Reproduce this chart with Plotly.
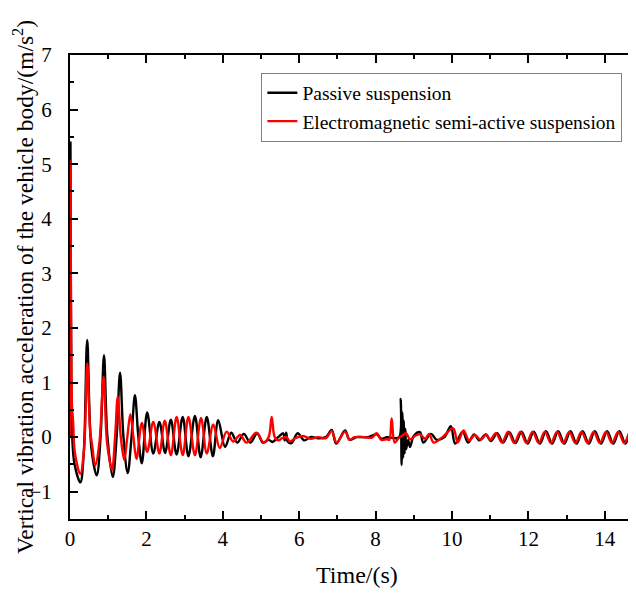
import plotly.graph_objects as go

# Passive suspension (black): key points
passive_t = [0.00, 0.012, 0.04, 0.07, 0.12, 0.27, 0.36, 0.45, 0.56, 0.70, 0.80, 0.89, 0.98, 1.12, 1.22,
             1.31, 1.40, 1.51, 1.61, 1.70, 1.79, 1.88, 2.02, 2.18, 2.34, 2.49, 2.64, 2.79, 2.95, 3.10,
             3.27, 3.42, 3.58, 3.74, 3.88, 4.06, 4.22, 4.38, 4.55, 4.72, 4.90, 5.05, 5.20, 5.30, 5.45,
             5.58, 5.62, 5.66, 5.70, 5.80, 5.96, 6.13, 6.30, 6.50, 6.70, 6.85, 6.97, 7.20, 7.32, 7.50,
             7.80, 8.03, 8.15, 8.30, 8.50, 8.62, 8.66, 8.68, 8.70, 8.72, 8.74, 8.76, 8.78, 8.80, 8.85,
             8.90, 9.00, 9.16, 9.25, 9.45, 9.60, 9.80, 9.97, 10.08, 10.28, 10.42, 10.58, 10.72, 10.88,
             11.02, 11.18, 11.34, 11.50, 11.66, 11.82, 11.98, 12.14, 12.30, 12.46, 12.62, 12.78, 12.94,
             13.10, 13.26, 13.42, 13.58, 13.74, 13.90, 14.06, 14.22, 14.38, 14.54, 14.70, 14.86, 15.0]
passive_a = [0.0, 5.4, 0.5, -0.15, -0.5, -0.83, -0.3, 1.78, -0.2, -0.7, 0.0, 1.5, 0.0, -0.73, 0.0,
             1.18, 0.0, -0.66, 0.0, 0.77, 0.0, -0.48, 0.45, -0.3, 0.28, -0.29, 0.32, -0.32, 0.37, -0.35,
             0.39, -0.37, 0.37, -0.35, 0.31, -0.18, 0.08, -0.1, 0.06, -0.1, 0.07, -0.1, -0.05, -0.09, 0.0,
             0.07, -0.06, 0.08, -0.08, -0.11, 0.07, -0.06, 0.0, -0.02, 0.0, 0.13, -0.12, 0.12, -0.05, 0.0,
             0.0, 0.05, -0.03, 0.0, -0.02, 0.0, 0.7, -0.51, 0.45, -0.38, 0.3, -0.3, 0.15, -0.22, -0.05,
             -0.18, 0.02, 0.09, -0.1, 0.06, -0.05, 0.0, 0.2, -0.12, 0.1, -0.1, 0.05, -0.06, 0.05,
             -0.07, 0.07, -0.1, 0.09, -0.11, 0.1, -0.12, 0.1, -0.12, 0.11, -0.12, 0.11, -0.12,
             0.11, -0.12, 0.11, -0.12, 0.11, -0.12, 0.11, -0.12, 0.11, -0.12, 0.11, -0.12, 0.08]

# Electromagnetic semi-active suspension (red)
semi_t = [0.00, 0.012, 0.05, 0.08, 0.13, 0.27, 0.37, 0.45, 0.53, 0.58, 0.66, 0.77, 0.88, 0.97, 1.10,
          1.18, 1.25, 1.33, 1.42, 1.50, 1.58, 1.66, 1.74, 1.88, 2.02, 2.18, 2.34, 2.48, 2.64, 2.79,
          2.95, 3.10, 3.27, 3.43, 3.58, 3.75, 3.92, 4.10, 4.27, 4.45, 4.62, 4.88, 5.07, 5.20, 5.28,
          5.36, 5.46, 5.55, 5.67, 5.75, 5.90, 6.10, 6.30, 6.50, 6.70, 6.85, 6.98, 7.20, 7.32, 7.45,
          7.70, 7.90, 8.03, 8.15, 8.30, 8.36, 8.42, 8.50, 8.60, 8.70, 8.80, 8.90, 9.05, 9.16, 9.30,
          9.40, 9.52, 9.75, 10.03, 10.15, 10.30, 10.45, 10.60, 10.75, 10.90, 11.00, 11.15, 11.31,
          11.47, 11.63, 11.79, 11.95, 12.11, 12.27, 12.43, 12.59, 12.75, 12.91, 13.07, 13.23, 13.39,
          13.55, 13.71, 13.87, 14.03, 14.19, 14.35, 14.51, 14.67, 14.83, 15.0]
semi_a = [0.0, 5.05, 0.6, 0.3, -0.3, -0.67, -0.2, 1.35, 0.1, -0.15, -0.52, -0.1, 1.1, -0.1, -0.6,
          0.0, 0.74, 0.0, -0.42, 0.0, 0.42, 0.0, -0.4, 0.26, -0.27, 0.28, -0.3, 0.3, -0.33, 0.37,
          -0.33, 0.37, -0.33, 0.35, -0.3, 0.23, -0.2, 0.1, -0.08, 0.04, -0.1, 0.08, -0.1, 0.0, 0.37,
          0.0, -0.06, -0.02, 0.0, -0.08, -0.02, 0.02, -0.03, 0.0, -0.02, 0.11, -0.1, 0.1, -0.05, 0.0,
          0.0, -0.01, 0.07, -0.05, -0.04, -0.05, 0.34, -0.1, -0.02, 0.03, 0.07, -0.04, 0.03, 0.05, -0.03,
          0.06, -0.1, 0.0, 0.16, -0.1, 0.12, -0.06, 0.04, -0.05, 0.05, -0.05, 0.07, -0.1,
          0.1, -0.11, 0.1, -0.11, 0.1, -0.11, 0.1, -0.11, 0.1, -0.11, 0.1, -0.11, 0.1,
          -0.11, 0.1, -0.11, 0.1, -0.11, 0.1, -0.11, 0.1, -0.11, 0.09]

x_ticks = [0, 2, 4, 6, 8, 10, 12, 14]
y_ticks = [-1, 0, 1, 2, 3, 4, 5, 6, 7]
x_title = "Time/(s)"
y_title = "Vertical vibration acceleration of the vehicle body/(m/s<sup>2</sup>)"

FONT = "Liberation Serif, Times New Roman, serif"

fig = go.Figure()
fig.add_trace(go.Scatter(x=passive_t, y=passive_a, mode="lines", name="Passive suspension",
                         line=dict(color="#000000", width=2.4, shape="spline", smoothing=1.0)))
fig.add_trace(go.Scatter(x=semi_t, y=semi_a, mode="lines", name="Electromagnetic semi-active suspension",
                         line=dict(color="#ff0000", width=2.4, shape="spline", smoothing=1.0)))

axis_common = dict(showline=True, linecolor="black", linewidth=2, mirror="ticks",
                   ticks="inside", ticklen=8, tickwidth=2, tickcolor="black",
                   showgrid=False, zeroline=False, automargin=False,
                   tickfont=dict(family=FONT, size=21, color="black"))

fig.update_xaxes(range=[0, 15], tickvals=x_ticks, ticklabelstandoff=0,
                 minor=dict(dtick=1, ticks="inside", ticklen=4, tickwidth=2, tickcolor="black"),
                 **axis_common)
fig.update_yaxes(range=[-1.5, 7], tickvals=y_ticks, ticklabelstandoff=12,
                 minor=dict(dtick=0.5, ticks="inside", ticklen=4, tickwidth=2, tickcolor="black"),
                 **axis_common)

fig.add_annotation(text=x_title, xref="paper", yref="paper", x=0.5, y=-0.121,
                   xanchor="center", yanchor="middle", showarrow=False,
                   font=dict(family=FONT, size=24, color="black"))
fig.add_annotation(text=y_title, xref="paper", yref="paper", x=-0.082, y=0.5,
                   xanchor="center", yanchor="middle", showarrow=False, textangle=-90,
                   font=dict(family=FONT, size=23.5, color="black"))

fig.update_layout(
    width=636, height=593,
    margin=dict(l=62, r=1, t=47, b=82, autoexpand=False),
    paper_bgcolor="white", plot_bgcolor="white",
    showlegend=True,
    legend=dict(x=0.334, y=0.962, xanchor="left", yanchor="top",
                bgcolor="white", bordercolor="#808080", borderwidth=1,
                font=dict(family=FONT, size=19.5, color="black"),
                tracegroupgap=0),
)

fig.write_html("out.html")
